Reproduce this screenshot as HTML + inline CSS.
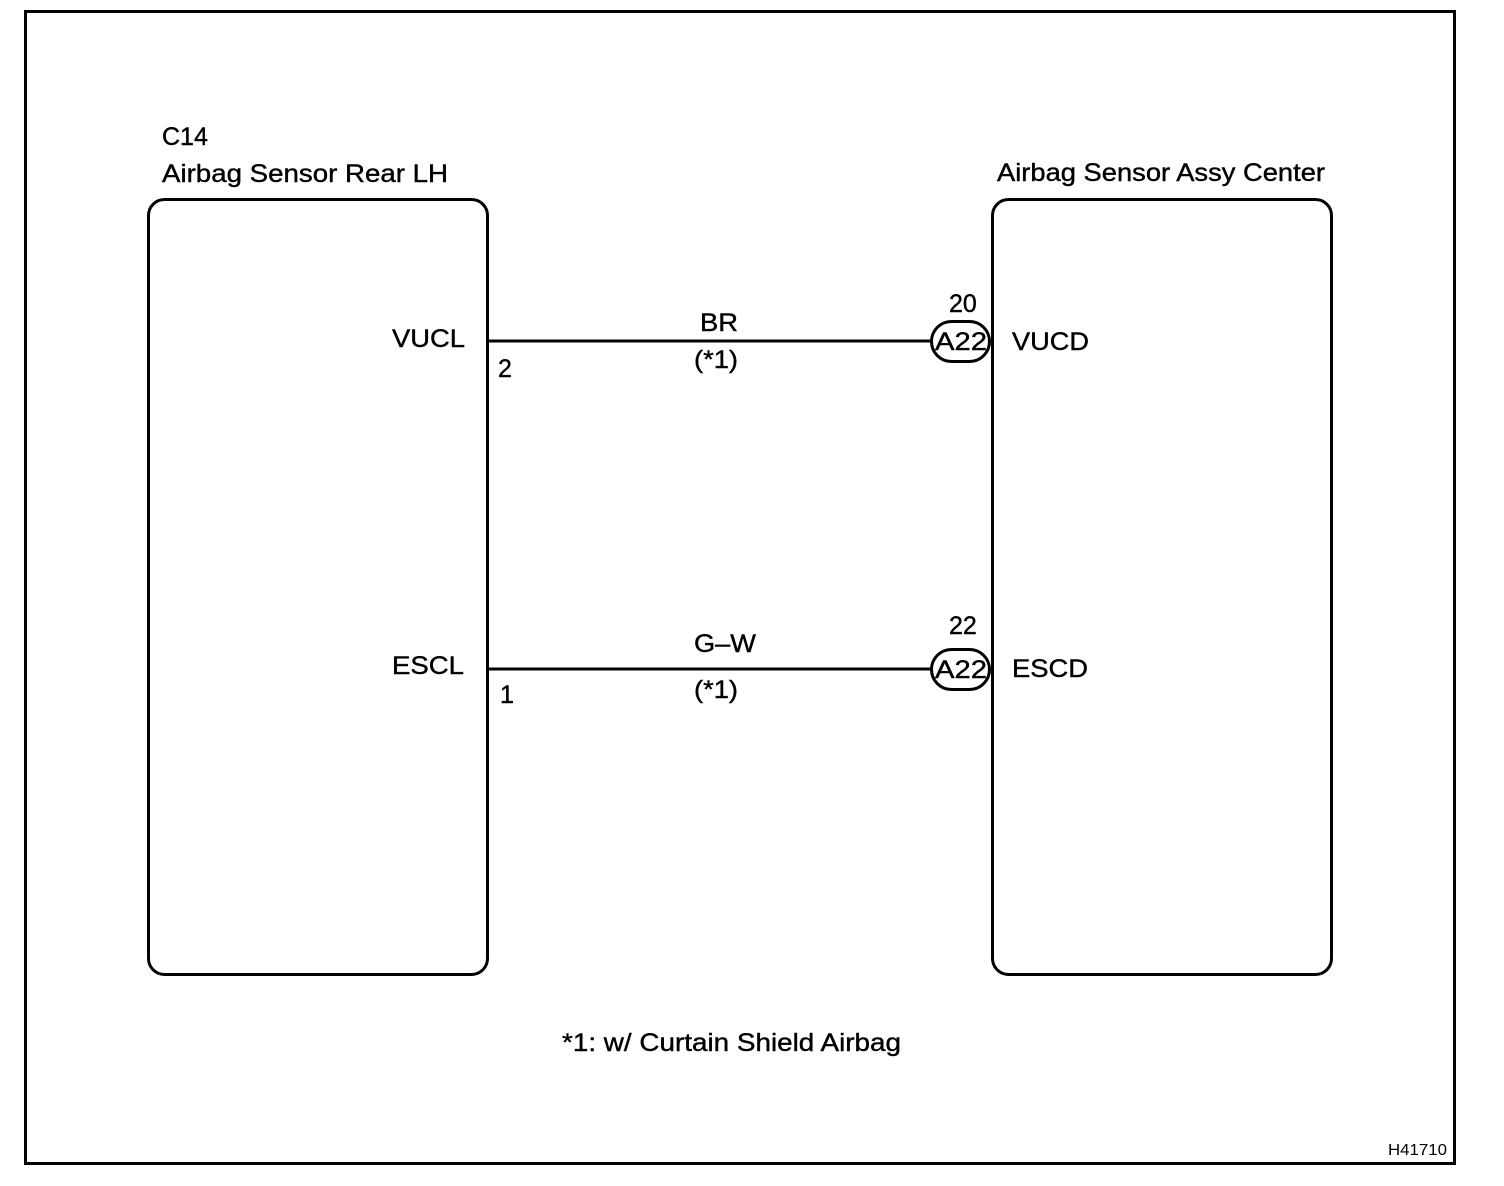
<!DOCTYPE html>
<html><head><meta charset="utf-8"><style>
html,body{margin:0;padding:0;background:#fff;}
svg{display:block;}
text{font-family:"Liberation Sans",Arial,sans-serif;fill:#000;}
</style></head><body>
<svg width="1504" height="1186" viewBox="0 0 1504 1186" xmlns="http://www.w3.org/2000/svg">
<rect x="25.5" y="11.5" width="1429" height="1152" fill="none" stroke="#000" stroke-width="3"/>
<rect x="148.5" y="199.5" width="339" height="775" rx="16" fill="none" stroke="#000" stroke-width="3"/>
<rect x="992.5" y="199.5" width="339" height="775" rx="16" fill="none" stroke="#000" stroke-width="3"/>
<line x1="489" y1="341" x2="932" y2="341" stroke="#000" stroke-width="3"/>
<line x1="489" y1="669" x2="932" y2="669" stroke="#000" stroke-width="3"/>
<rect x="931.5" y="321.5" width="58" height="40" rx="20" fill="#fff" stroke="#000" stroke-width="3"/>
<rect x="931.5" y="649.5" width="58" height="40" rx="20" fill="#fff" stroke="#000" stroke-width="3"/>
<g font-size="25" stroke="#000" stroke-width="0.4">
<text x="162" y="145">C14</text>
<text x="162" y="182" textLength="286" lengthAdjust="spacingAndGlyphs">Airbag Sensor Rear LH</text>
<text x="997" y="181" textLength="328" lengthAdjust="spacingAndGlyphs">Airbag Sensor Assy Center</text>
<text x="392" y="347" textLength="73" lengthAdjust="spacingAndGlyphs">VUCL</text>
<text x="392" y="674" textLength="72" lengthAdjust="spacingAndGlyphs">ESCL</text>
<text x="498" y="377">2</text>
<text x="500" y="703">1</text>
<text x="700" y="331" textLength="38" lengthAdjust="spacingAndGlyphs">BR</text>
<text x="694" y="368" textLength="44" lengthAdjust="spacingAndGlyphs">(*1)</text>
<text x="694" y="652" textLength="62" lengthAdjust="spacingAndGlyphs">G–W</text>
<text x="694" y="698" textLength="44" lengthAdjust="spacingAndGlyphs">(*1)</text>
<text x="949" y="312">20</text>
<text x="949" y="634">22</text>
<text x="935" y="350" textLength="52" lengthAdjust="spacingAndGlyphs">A22</text>
<text x="935" y="678" textLength="52" lengthAdjust="spacingAndGlyphs">A22</text>
<text x="1012" y="350" textLength="77" lengthAdjust="spacingAndGlyphs">VUCD</text>
<text x="1012" y="677" textLength="76" lengthAdjust="spacingAndGlyphs">ESCD</text>
<text x="562" y="1051" textLength="339" lengthAdjust="spacingAndGlyphs">*1: w/ Curtain Shield Airbag</text>
</g>
<text x="1388" y="1155" font-size="16" textLength="59" lengthAdjust="spacingAndGlyphs">H41710</text>
</svg>
</body></html>
